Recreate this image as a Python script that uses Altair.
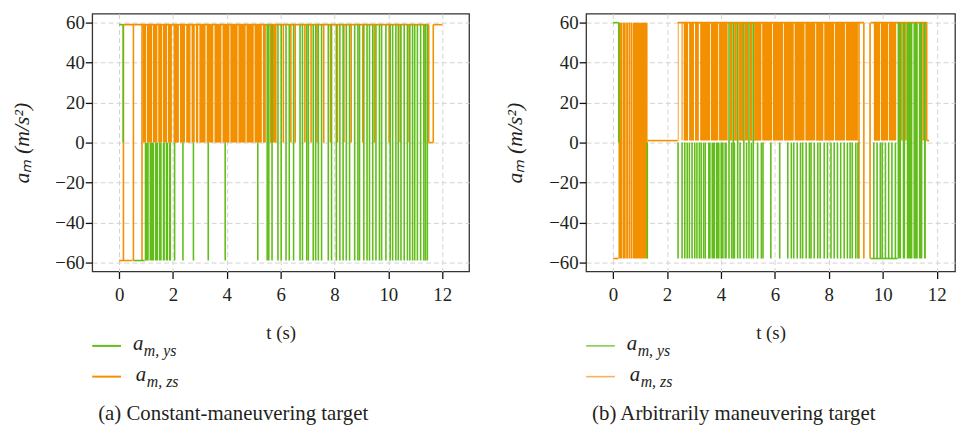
import altair as alt
import pandas as pd

GREEN = "#62bd1a"
ORANGE = "#f39000"
FONT = "Liberation Serif"
INK = "#231f20"

# ---------------- panel (a): constant-maneuvering target ----------------
A_YS_HORIZ = [(0.0, 0.15, 59), (0.53, 0.95, -59)]          # (t_start, t_end, level)
A_YS_EDGES = [(0.15, 0, 59)]                                  # (t, from, to)
A_YS_SPIKE_LOW = [2.06, 2.37, 2.76, 3.31, 3.94, 5.15]         # 0 -> -59
A_YS_SPIKE_FULL = [5.50, 5.56, 5.68, 5.90, 6.02, 6.20, 6.32, 6.48, 6.72, 6.81, 6.97,
                   7.03, 7.21, 7.30, 7.40, 7.52, 7.77, 7.89, 8.07, 8.20, 8.32, 8.44,
                   8.56, 8.75, 8.87, 8.93, 9.09, 9.21, 9.30, 9.42, 9.54, 9.67, 9.75,
                   9.91, 10.07, 10.16, 10.28, 10.37, 10.47, 10.59, 10.71, 10.80,
                   10.90, 10.98, 11.08, 11.20, 11.32, 11.38, 11.45]  # -59 -> 59
A_YS_BURSTS = [(0.95, 1.10), (1.13, 1.30), (1.33, 1.45), (1.48, 1.58), (1.62, 1.70),
               (1.73, 1.82), (1.85, 1.93)]                    # filled -59 .. 0
A_ZS_HORIZ = [(0.0, 0.5, -59), (0.16, 11.5, 59), (11.5, 11.67, 0), (11.67, 12.0, 59)]
A_ZS_EDGES = [(0.16, -59, 59), (0.53, -59, 59), (0.85, -59, 59), (11.5, 0, 59), (11.67, 0, 59)]
A_ZS_SPIKE_UP = [6.10, 6.38, 6.54, 6.90, 7.13, 7.35, 7.60, 7.85, 8.11, 8.35, 8.62,
                 9.05, 9.48, 10.03, 10.44, 10.77, 11.32]      # 0 -> 59
A_ZS_BURSTS = [(0.88, 1.00), (1.03, 1.22), (1.25, 1.42), (1.45, 1.60), (1.63, 1.78),
               (1.81, 1.96), (2.02, 2.22), (2.26, 2.45), (2.49, 2.65), (2.69, 2.81),
               (2.85, 2.94), (2.98, 3.21), (3.25, 3.50), (3.54, 3.80), (3.84, 4.10),
               (4.13, 4.40), (4.43, 4.70), (4.73, 5.00), (5.03, 5.30), (5.34, 5.45),
               (5.60, 5.85)]                                  # filled 0 .. 59

# ---------------- panel (b): arbitrarily maneuvering target ----------------
B_YS_HORIZ = [(0.0, 0.21, 60), (9.55, 10.55, -58)]
B_YS_EDGES = [(0.21, 0, 60), (1.27, -58, 0)]
B_YS_SPIKE_LOW = [2.41, 2.56, 2.66, 2.75, 2.83, 2.93, 3.03, 3.11, 3.20, 3.27, 3.36, 3.42,
                  4.40, 4.50, 4.71, 4.95, 5.13, 5.36, 5.50, 5.56, 5.85, 6.18, 6.48,
                  6.61, 6.70, 6.83, 6.95, 7.03, 7.16, 7.28, 7.34, 7.46, 7.59, 7.68,
                  7.83, 7.95, 8.08, 8.20, 8.32, 8.44, 8.57, 8.69, 8.79, 8.87, 9.00,
                  9.08, 9.67, 9.79, 9.91, 9.98, 10.10, 10.22, 10.34, 10.47]   # 0 -> -58
B_YS_SPIKE_FULL = [4.30, 4.46, 4.62, 4.85, 5.04, 5.20]       # -58 -> 60
B_YS_BURSTS_LOW = [(3.52, 3.62), (3.65, 3.78), (3.81, 3.95), (3.98, 4.10), (4.13, 4.22)]
B_YS_BURSTS_FULL = [(10.55, 10.68), (10.74, 10.83), (10.89, 11.10), (11.14, 11.30),
                    (11.34, 11.47), (11.53, 11.60)]
B_ZS_HORIZ = [(0.0, 0.2, -58), (1.28, 2.4, 1), (2.4, 9.3, 60), (9.55, 11.65, 60),
              (11.63, 11.72, 1)]
B_ZS_EDGES = [(9.12, -58, 60), (9.30, -58, 60), (9.53, -58, 60),
              (10.71, 1, 60), (10.86, 1, 60), (11.50, 1, 60), (11.63, 1, 60)]
B_ZS_BURSTS_FULL = [(0.20, 0.34), (0.355, 0.47), (0.485, 0.56), (0.575, 0.65),
                    (0.665, 0.72), (0.735, 1.28)]             # filled -58 .. 60
B_ZS_BURSTS_UP = [(2.40, 2.43), (2.54, 2.58), (2.62, 2.78), (2.82, 3.00), (3.04, 3.18),
                  (3.23, 3.60), (3.63, 3.90), (3.93, 4.25), (4.33, 4.43), (4.49, 4.59),
                  (4.65, 4.82), (4.88, 5.01), (5.07, 5.17), (5.23, 5.50), (5.53, 5.90),
                  (5.93, 6.30), (6.33, 6.70), (6.73, 7.10), (7.13, 7.50), (7.53, 7.80),
                  (7.83, 8.20), (8.23, 8.60), (8.63, 9.08), (9.67, 9.90), (9.93, 10.20),
                  (10.23, 10.50)]                             # filled 1 .. 60

SERIES = ["ys", "zs"]


def segs(series, horiz=(), edges=(), spikes=(), lo=0, hi=0):
    rows = []
    for t1, t2, v in horiz:
        rows.append(dict(series=series, t1=t1, t2=t2, v1=v, v2=v))
    for t, a, b in edges:
        rows.append(dict(series=series, t1=t, t2=t, v1=a, v2=b))
    for t in spikes:
        rows.append(dict(series=series, t1=t, t2=t, v1=lo, v2=hi))
    return rows


def blocks(series, spans, lo, hi):
    return [dict(series=series, t1=a, t2=b, v1=lo, v2=hi) for a, b in spans]


def text_layer(txt, x, y, size, italic=False, color=INK):
    return alt.Chart(pd.DataFrame({"s": [txt]})).mark_text(
        align="left", baseline="alphabetic", font=FONT, fontSize=size,
        fontStyle="italic" if italic else "normal", color=color
    ).encode(x=alt.value(x), y=alt.value(y), text="s:N")


def swatch(x1, x2, y, color, w):
    return alt.Chart(pd.DataFrame({"s": [0]})).mark_rule(color=color, strokeWidth=w).encode(
        x=alt.value(x1), x2=alt.value(x2), y=alt.value(y))


AXIS_STYLE = dict(grid=True, gridColor="#d2d2d2", gridDash=[5, 3], gridWidth=1, domain=False,
                  tickColor="#111", tickSize=7, tickWidth=1.3,
                  labelFont=FONT, labelFontSize=19, labelColor=INK,
                  titleFont=FONT, titleFontWeight="normal", titleColor=INK)


def panel(rule_rows, rect_rows, width, xmax, caption, sw_colors, sw_w):
    rules = pd.DataFrame(rule_rows)
    rects = pd.DataFrame(rect_rows)
    xs = alt.Scale(domain=[-1, xmax], nice=False, zero=False)
    ys = alt.Scale(domain=[-64.5, 64.5], nice=False, zero=False)
    color = alt.Color("series:N", scale=alt.Scale(domain=SERIES, range=[GREEN, ORANGE]), legend=None)
    X = alt.X("t1:Q", scale=xs, axis=alt.Axis(values=list(range(0, 13, 2)), title="t (s)",
                                                  titleFontSize=19,
                                                  labelPadding=7, titlePadding=20, **AXIS_STYLE))
    Y = alt.Y("v1:Q", scale=ys, axis=alt.Axis(values=list(range(-60, 61, 20)),
                                                  title="aₘ (m/s²)", titleFontStyle="italic",
                                                  titleFontSize=22,
                                                  labelPadding=1, titlePadding=22, **AXIS_STYLE))
    layers = []
    for s in ["zs", "ys"]:
        layers.append(alt.Chart(rects).transform_filter(alt.datum.series == s).mark_rect(
            strokeWidth=0).encode(x=X, x2="t2:Q", y=Y, y2="v2:Q", color=color))
        layers.append(alt.Chart(rules).transform_filter(alt.datum.series == s).mark_rule(
            strokeWidth=1.6).encode(x=X, x2="t2:Q", y=Y, y2="v2:Q", color=color))
    layers += [
        swatch(0, 29, 335, sw_colors[0], sw_w),
        swatch(0, 29, 366, sw_colors[1], sw_w),
        text_layer("a", 41, 339, 21, True),
        text_layer("m, ys", 52, 345, 16, True),
        text_layer("a", 44, 370, 21, True),
        text_layer("m, zs", 55, 376, 16, True),
        text_layer(caption, 6, 410, 21),
    ]
    return alt.layer(*layers).properties(width=width, height=260)


a_rules = (segs("ys", A_YS_HORIZ, A_YS_EDGES, A_YS_SPIKE_LOW, 0, -59)
           + segs("ys", spikes=A_YS_SPIKE_FULL, lo=-59, hi=59)
           + segs("zs", A_ZS_HORIZ, A_ZS_EDGES, A_ZS_SPIKE_UP, 0, 59))
a_rects = blocks("ys", A_YS_BURSTS, -59, 0) + blocks("zs", A_ZS_BURSTS, 0, 59)

b_rules = (segs("ys", B_YS_HORIZ, B_YS_EDGES, B_YS_SPIKE_LOW, 0, -58)
           + segs("ys", spikes=B_YS_SPIKE_FULL, lo=-58, hi=60)
           + segs("zs", B_ZS_HORIZ, B_ZS_EDGES))
b_rects = (blocks("ys", B_YS_BURSTS_LOW, -58, 0) + blocks("ys", B_YS_BURSTS_FULL, -58, 60)
           + blocks("zs", B_ZS_BURSTS_FULL, -58, 60) + blocks("zs", B_ZS_BURSTS_UP, 1, 60))

left = panel(a_rules, a_rects, 380, 13, "(a) Constant-maneuvering target", [GREEN, ORANGE], 2)
right = panel(b_rules, b_rects, 372, 12.68, "(b) Arbitrarily maneuvering target",
              ["#7fd04a", "#f7b25c"], 1.6)

chart = alt.hconcat(left, right, spacing=33).properties(
    padding={"left": 9, "top": 11, "right": 0, "bottom": 0}
).configure_view(stroke="#333", strokeWidth=1.3)

chart.save("out.html", embed_options={"renderer": "svg", "actions": False})
